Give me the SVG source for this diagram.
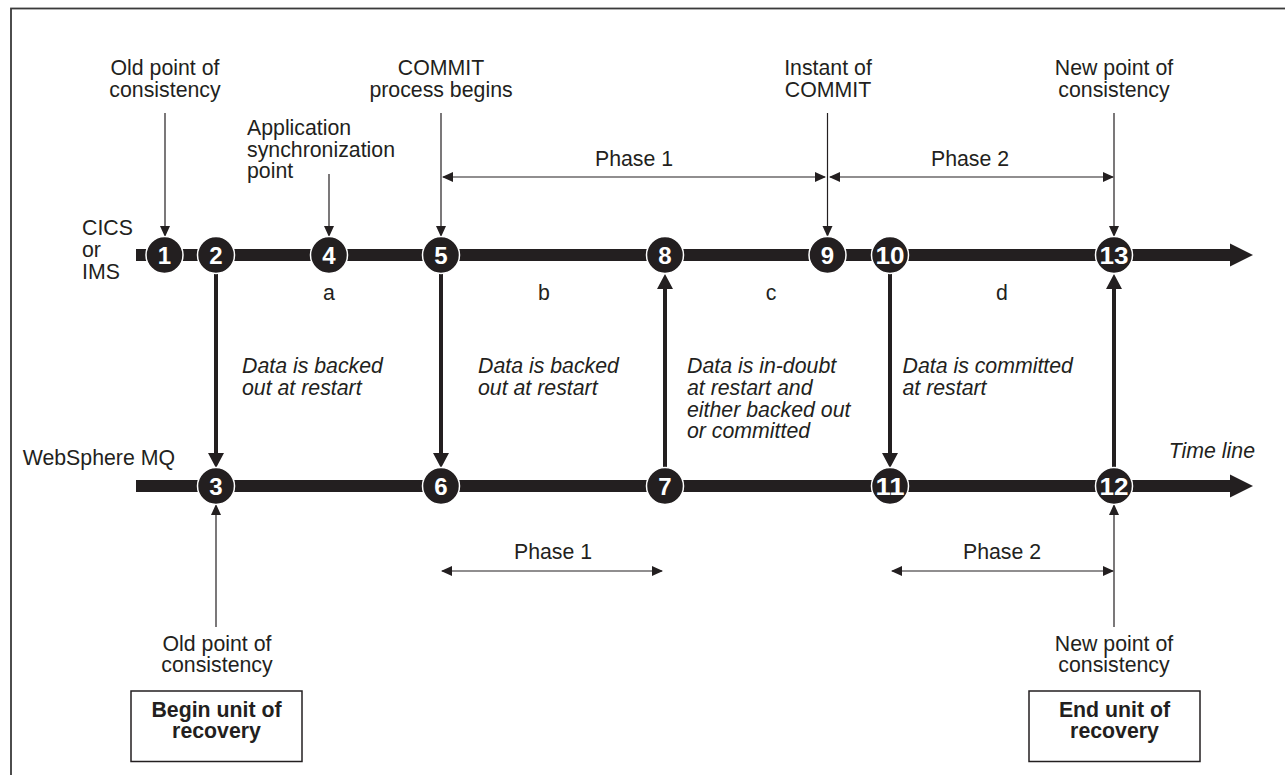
<svg xmlns="http://www.w3.org/2000/svg" width="1285" height="775" viewBox="0 0 1285 775">
<defs>
<style>
.t{font-family:"Liberation Sans",Arial,sans-serif;font-size:21.3px;fill:#231f20}
.c{text-anchor:middle}
.i{font-style:italic}
.b{font-weight:bold}
.num{font-family:"Liberation Sans",Arial,sans-serif;font-size:24px;font-weight:bold;fill:#fff;text-anchor:middle}
.dot{fill:#231f20;stroke:#fff;stroke-width:1.5}
.thin{stroke:#231f20;stroke-width:1.2;fill:none}
.thick{stroke:#231f20;stroke-width:4;fill:none}
.bar{fill:#231f20}
.box{fill:#fff;stroke:#231f20;stroke-width:1.5}
</style>
<marker id="ah" markerUnits="userSpaceOnUse" markerWidth="11" markerHeight="11" refX="10" refY="5.5" orient="auto-start-reverse">
<path d="M0,0.5 L11,5.5 L0,10.5 z" fill="#231f20"/>
</marker>
<marker id="ahb" markerUnits="userSpaceOnUse" markerWidth="16" markerHeight="16" refX="5" refY="8" orient="auto">
<path d="M0,0 L15,8 L0,16 z" fill="#231f20"/>
</marker>
</defs>
<rect x="11" y="8.5" width="1300" height="800" fill="#fff" stroke="#3a3a3a" stroke-width="1.8"/>

<g id="timelines">
<rect class="bar" x="136" y="249" width="1096" height="12"/>
<polygon class="bar" points="1230,243.5 1253,255 1230,266.5"/>
<rect class="bar" x="136" y="480" width="1096" height="12"/>
<polygon class="bar" points="1230,474.5 1253,486 1230,497.5"/>
</g>

<g id="connectors">
<line class="thick" x1="216" y1="273" x2="216" y2="458" marker-end="url(#ahb)"/>
<line class="thick" x1="441" y1="273" x2="441" y2="458" marker-end="url(#ahb)"/>
<line class="thick" x1="890" y1="273" x2="890" y2="458" marker-end="url(#ahb)"/>
<line class="thick" x1="665" y1="468" x2="665" y2="284" marker-end="url(#ahb)"/>
<line class="thick" x1="1114" y1="468" x2="1114" y2="284" marker-end="url(#ahb)"/>
<line class="thin" x1="165" y1="113" x2="165" y2="236" marker-end="url(#ah)"/>
<line class="thin" x1="329" y1="174" x2="329" y2="236" marker-end="url(#ah)"/>
<line class="thin" x1="441" y1="113" x2="441" y2="236" marker-end="url(#ah)"/>
<line class="thin" x1="827.5" y1="113" x2="827.5" y2="236" marker-end="url(#ah)"/>
<line class="thin" x1="1114" y1="113" x2="1114" y2="236" marker-end="url(#ah)"/>
<line class="thin" x1="216" y1="627" x2="216" y2="505" marker-end="url(#ah)"/>
<line class="thin" x1="1114" y1="627" x2="1114" y2="505" marker-end="url(#ah)"/>
<line class="thin" x1="443" y1="177" x2="825" y2="177" marker-start="url(#ah)" marker-end="url(#ah)"/>
<line class="thin" x1="830" y1="177" x2="1113" y2="177" marker-start="url(#ah)" marker-end="url(#ah)"/>
<line class="thin" x1="442" y1="571" x2="662" y2="571" marker-start="url(#ah)" marker-end="url(#ah)"/>
<line class="thin" x1="892" y1="571" x2="1113" y2="571" marker-start="url(#ah)" marker-end="url(#ah)"/>
</g>

<g id="n1"><circle class="dot" cx="164.5" cy="255" r="18.5"/><text class="num" x="164.5" y="263.5">1</text></g>
<g id="n2"><circle class="dot" cx="216" cy="255" r="18.5"/><text class="num" x="216" y="263.5">2</text></g>
<g id="n4"><circle class="dot" cx="329" cy="255" r="18.5"/><text class="num" x="329" y="263.5">4</text></g>
<g id="n5"><circle class="dot" cx="441" cy="255" r="18.5"/><text class="num" x="441" y="263.5">5</text></g>
<g id="n8"><circle class="dot" cx="665" cy="255" r="18.5"/><text class="num" x="665" y="263.5">8</text></g>
<g id="n9"><circle class="dot" cx="827.5" cy="255" r="18.5"/><text class="num" x="827.5" y="263.5">9</text></g>
<g id="n10"><circle class="dot" cx="890" cy="255" r="18.5"/><text class="num" x="890" y="263.5" textLength="29" lengthAdjust="spacingAndGlyphs">10</text></g>
<g id="n13"><circle class="dot" cx="1114" cy="255" r="18.5"/><text class="num" x="1114" y="263.5" textLength="29" lengthAdjust="spacingAndGlyphs">13</text></g>
<g id="n3"><circle class="dot" cx="216" cy="486" r="18.5"/><text class="num" x="216" y="494.5">3</text></g>
<g id="n6"><circle class="dot" cx="441" cy="486" r="18.5"/><text class="num" x="441" y="494.5">6</text></g>
<g id="n7"><circle class="dot" cx="665" cy="486" r="18.5"/><text class="num" x="665" y="494.5">7</text></g>
<g id="n11"><circle class="dot" cx="890" cy="486" r="18.5"/><text class="num" x="890" y="494.5" textLength="29" lengthAdjust="spacingAndGlyphs">11</text></g>
<g id="n12"><circle class="dot" cx="1114" cy="486" r="18.5"/><text class="num" x="1114" y="494.5" textLength="29" lengthAdjust="spacingAndGlyphs">12</text></g>

<g id="label-cics"><text class="t" x="82" y="235">CICS</text><text class="t" x="82" y="257">or</text><text class="t" x="82" y="279">IMS</text></g>
<g id="label-mq"><text class="t" x="175" y="465" text-anchor="end">WebSphere MQ</text></g>
<g id="label-timeline"><text class="t i" x="1255" y="458" text-anchor="end">Time line</text></g>

<g id="label-old-top"><text class="t c" x="165" y="75">Old point of</text><text class="t c" x="165" y="97">consistency</text></g>
<g id="label-appsync"><text class="t" x="247" y="135">Application</text><text class="t" x="247" y="157">synchronization</text><text class="t" x="247" y="178">point</text></g>
<g id="label-commit"><text class="t c" x="441" y="75">COMMIT</text><text class="t c" x="441" y="97">process begins</text></g>
<g id="label-instant"><text class="t c" x="828" y="75">Instant of</text><text class="t c" x="828" y="97">COMMIT</text></g>
<g id="label-new-top"><text class="t c" x="1114" y="75">New point of</text><text class="t c" x="1114" y="97">consistency</text></g>

<g id="label-phase1-top"><text class="t c" x="634" y="166">Phase 1</text></g>
<g id="label-phase2-top"><text class="t c" x="970" y="166">Phase 2</text></g>
<g id="label-phase1-bottom"><text class="t c" x="553" y="559">Phase 1</text></g>
<g id="label-phase2-bottom"><text class="t c" x="1002" y="559">Phase 2</text></g>

<g id="label-a"><text class="t c" x="329" y="300">a</text></g>
<g id="label-b"><text class="t c" x="544" y="300">b</text></g>
<g id="label-c"><text class="t c" x="771" y="300">c</text></g>
<g id="label-d"><text class="t c" x="1002" y="300">d</text></g>

<g id="note-a"><text class="t i" x="242" y="373">Data is backed</text><text class="t i" x="242" y="395">out at restart</text></g>
<g id="note-b"><text class="t i" x="478" y="373">Data is backed</text><text class="t i" x="478" y="395">out at restart</text></g>
<g id="note-c"><text class="t i" x="687" y="373">Data is in-doubt</text><text class="t i" x="687" y="395">at restart and</text><text class="t i" x="687" y="416.5">either backed out</text><text class="t i" x="687" y="438">or committed</text></g>
<g id="note-d"><text class="t i" x="902.5" y="373">Data is committed</text><text class="t i" x="902.5" y="395">at restart</text></g>

<g id="label-old-bottom"><text class="t c" x="217" y="651">Old point of</text><text class="t c" x="217" y="672">consistency</text></g>
<g id="label-new-bottom"><text class="t c" x="1114" y="651">New point of</text><text class="t c" x="1114" y="672">consistency</text></g>

<g id="box-begin"><rect class="box" x="131" y="691" width="171" height="70.5"/><text class="t c b" x="216.5" y="717">Begin unit of</text><text class="t c b" x="216.5" y="737.5">recovery</text></g>
<g id="box-end"><rect class="box" x="1029" y="691" width="171" height="70.5"/><text class="t c b" x="1114.5" y="717">End unit of</text><text class="t c b" x="1114.5" y="737.5">recovery</text></g>
</svg>
